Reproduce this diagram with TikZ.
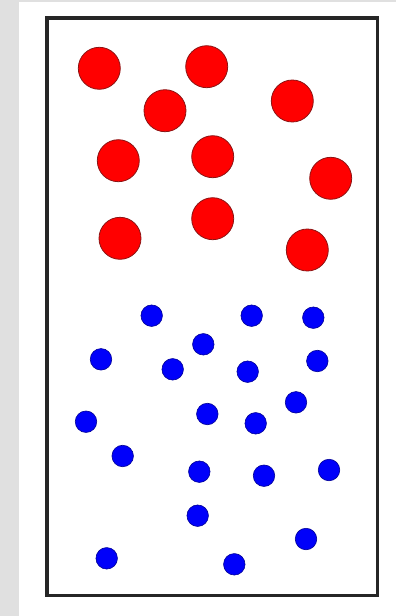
\documentclass[tikz,border=0pt]{standalone}
\definecolor{bggray}{RGB}{224,224,224}
\definecolor{redfill}{RGB}{255,0,0}
\definecolor{redline}{RGB}{140,20,20}
\definecolor{bluefill}{RGB}{0,0,250}
\definecolor{blueline}{RGB}{0,0,150}
\begin{document}
\begin{tikzpicture}[x=1pt,y=-1pt,
  bigdot/.style={circle,fill=redfill,draw=redline,line width=0.8pt,minimum size=42pt,inner sep=0pt},
  smalldot/.style={circle,fill=bluefill,draw=blueline,line width=0.6pt,minimum size=21.5pt,inner sep=0pt}]
\useasboundingbox (0,0) rectangle (396,616);
\fill[white] (0,0) rectangle (396,616);
\fill[bggray] (0,0) rectangle (19,616);
\fill[bggray] (0,0) rectangle (396,2);
\draw[line width=3.2pt,black!85] (47,18) rectangle (377.5,595.5);
% red
\node[bigdot] (r1) at (99.3,68.3) {};
\node[bigdot] (r2) at (206.7,66.7) {};
\node[bigdot] (r3) at (165,110.7) {};
\node[bigdot] (r4) at (292.3,101) {};
\node[bigdot] (r5) at (118.3,160.7) {};
\node[bigdot] (r6) at (212.7,156.7) {};
\node[bigdot] (r7) at (330.7,178.3) {};
\node[bigdot] (r8) at (120,238.3) {};
\node[bigdot] (r9) at (212.7,218.7) {};
\node[bigdot] (r10) at (307.3,250) {};
% blue
\node[smalldot] (b1) at (151.7,315.7) {};
\node[smalldot] (b2) at (251.7,315.7) {};
\node[smalldot] (b3) at (313.3,317.7) {};
\node[smalldot] (b4) at (203.3,344.3) {};
\node[smalldot] (b5) at (101,359.3) {};
\node[smalldot] (b6) at (172.7,369.3) {};
\node[smalldot] (b7) at (247.7,371.7) {};
\node[smalldot] (b8) at (317.3,361) {};
\node[smalldot] (b9) at (296,402.3) {};
\node[smalldot] (b10) at (86,421.7) {};
\node[smalldot] (b11) at (207.3,414) {};
\node[smalldot] (b12) at (255.7,423.3) {};
\node[smalldot] (b13) at (122.7,456) {};
\node[smalldot] (b14) at (199.3,471.7) {};
\node[smalldot] (b15) at (264,475.7) {};
\node[smalldot] (b16) at (329,470) {};
\node[smalldot] (b17) at (197.7,515.7) {};
\node[smalldot] (b18) at (306,539) {};
\node[smalldot] (b19) at (106.7,558.3) {};
\node[smalldot] (b20) at (234.3,564.3) {};
\end{tikzpicture}
\end{document}
